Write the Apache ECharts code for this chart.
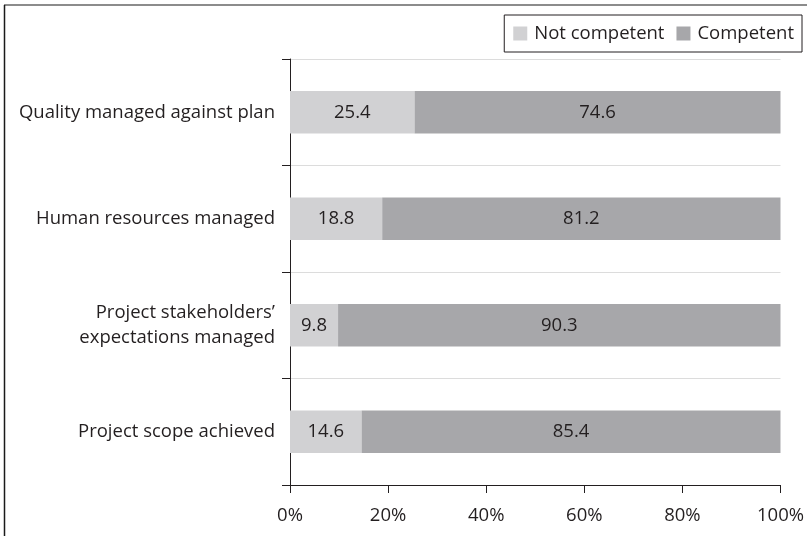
<!DOCTYPE html>
<html>
<head>
<meta charset="utf-8">
<script src="https://cdn.jsdelivr.net/npm/echarts@6/dist/echarts.min.js"></script>
<style>
  html, body { margin: 0; padding: 0; background: #fff; }
  #chart { width: 807px; height: 536px; }
</style>
</head>
<body>
<div id="chart"></div>
<script>
// Competency areas, listed top to bottom
const categories = [
  'Quality managed against plan',
  'Human resources managed',
  'Project stakeholders\u2019\nexpectations managed',
  'Project scope achieved'
];
const notCompetent = [25.4, 18.8, 9.8, 14.6];
const competent = [74.6, 81.2, 90.3, 85.4];
const seriesNames = ['Not competent', 'Competent'];
const xTicks = [0, 20, 40, 60, 80, 100];

const FONT = '"Open Sans"';
const FS = 18.5;
const TEXT = '#231f20';

const chart = echarts.init(document.getElementById('chart'), null, { renderer: 'canvas' });

function barLabel() {
  return {
    show: true,
    position: 'inside',
    color: TEXT,
    fontFamily: FONT,
    fontSize: FS,
    formatter: p => p.value.toFixed(1)
  };
}

chart.setOption({
  animation: false,
  backgroundColor: '#fff',
  textStyle: { fontFamily: FONT },
  graphic: [
    { type: 'line', shape: { x1: 4, y1: 5, x2: 807, y2: 5 }, style: { stroke: '#8c8c8c', lineWidth: 2 } },
    { type: 'line', shape: { x1: 4.5, y1: 5, x2: 4.5, y2: 536 }, style: { stroke: '#1a1a1a', lineWidth: 1.5 } }
  ],
  legend: {
    data: seriesNames,
    right: 5,
    top: 15,
    orient: 'horizontal',
    borderColor: '#231f20',
    borderWidth: 1,
    borderRadius: 0,
    padding: [9, 8, 9, 9],
    itemWidth: 14,
    itemHeight: 14,
    itemGap: 12,
    icon: 'rect',
    textStyle: { fontFamily: FONT, fontSize: FS, color: TEXT, padding: [0, 0, 0, 2] }
  },
  grid: { left: 290, right: 26, top: 59, bottom: 51, containLabel: false },
  xAxis: {
    type: 'value',
    min: 0,
    max: 100,
    interval: 20,
    axisLine: { show: true, lineStyle: { color: '#231f20', width: 1 } },
    axisTick: { show: true, length: 8, lineStyle: { color: '#231f20' } },
    splitLine: { show: false },
    axisLabel: {
      color: TEXT,
      fontFamily: FONT,
      fontSize: FS,
      margin: 21,
      formatter: v => (xTicks.includes(v) ? v + '%' : '')
    }
  },
  yAxis: {
    type: 'category',
    data: categories,
    inverse: true,
    axisLine: { show: true, lineStyle: { color: '#231f20', width: 1 } },
    axisTick: { show: true, length: 8, lineStyle: { color: '#231f20' } },
    splitLine: { show: true, lineStyle: { color: '#dcdcdc', width: 1 } },
    axisLabel: {
      color: TEXT,
      fontFamily: FONT,
      fontSize: FS,
      margin: 15,
      lineHeight: 25,
      align: 'right'
    }
  },
  series: [
    {
      name: seriesNames[0],
      type: 'bar',
      stack: 'total',
      data: notCompetent,
      barWidth: '40%',
      itemStyle: { color: '#d1d1d3' },
      label: barLabel()
    },
    {
      name: seriesNames[1],
      type: 'bar',
      stack: 'total',
      data: competent,
      barWidth: '40%',
      itemStyle: { color: '#a7a7aa' },
      label: barLabel()
    }
  ]
});
</script>
</body>
</html>
